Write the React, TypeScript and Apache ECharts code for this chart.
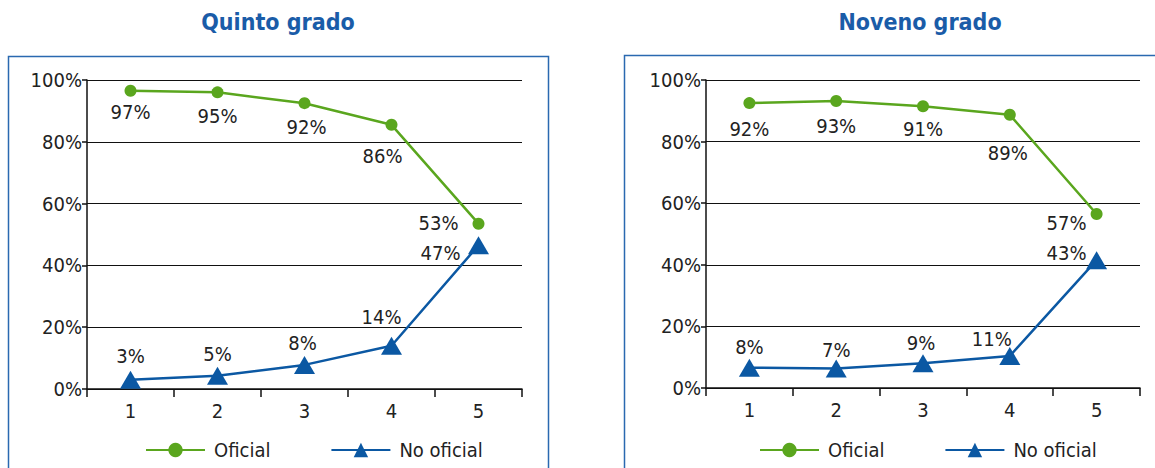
import React, { useEffect, useRef } from "react";
import * as echarts from "echarts";

const categories = ["1", "2", "3", "4", "5"];
const yTicks = [0, 20, 40, 60, 80, 100];

const quintoOficial = [96.5, 96, 92.5, 85.5, 53.5];
const quintoOficialLabels = ["97%", "95%", "92%", "86%", "53%"];
const quintoNoOficial = [3, 4.3, 7.8, 14, 46.5];
const quintoNoOficialLabels = ["3%", "5%", "8%", "14%", "47%"];

const novenoOficial = [92.5, 93.2, 91.5, 88.7, 56.5];
const novenoOficialLabels = ["92%", "93%", "91%", "89%", "57%"];
const novenoNoOficial = [6.6, 6.3, 8, 10.4, 41.5];
const novenoNoOficialLabels = ["8%", "7%", "9%", "11%", "43%"];

const titles = ["Quinto grado", "Noveno grado"];
const seriesNames = ["Oficial", "No oficial"];

const GREEN = "#5aa61e";
const BLUE = "#0b58a3";
const FRAME = "#2a69b0";
const FONT = "'Liberation Sans Narrow', 'DejaVu Sans Condensed', 'Arial Narrow', sans-serif";
const FS = 20;

// label offsets (dx, dy) from point centre
const offQO = [[0, 21], [0, 24], [2, 24], [-9, 31], [-40, -1]];
const offQN = [[0, -24], [0, -22], [-2, -22], [-10, -29], [-38, 8]];
const offNO = [[0, 26], [0, 25], [0, 23], [-2, 38], [-30, 9]];
const offNN = [[0, -21], [0, -19], [-2, -20], [-18, -17], [-30, -7]];

function makeData(values: number[], labels: string[], offs: number[][]) {
  return values.map((v, i) => ({
    value: v,
    label: { offset: offs[i], formatter: labels[i] },
  }));
}

export default function App() {
  const ref = useRef<HTMLDivElement>(null);
  useEffect(() => {
    document.body.style.margin = "0";
    const chart = echarts.init(ref.current!, null, { renderer: "svg" });
    const grids = [
      { left: 87, top: 80, width: 435, height: 309 },
      { left: 706, top: 80, width: 434, height: 308 },
    ];
    const xAxis = grids.map((_, i) => ({
      type: "category",
      gridIndex: i,
      data: categories,
      boundaryGap: true,
      axisLine: { lineStyle: { color: "#111", width: 1.5 } },
      axisTick: { show: true, length: 8, lineStyle: { color: "#111", width: 1.5 } },
      axisLabel: { fontSize: FS, fontFamily: FONT, color: "#222", margin: 12 },
      splitLine: { show: false },
    }));
    const yAxis = grids.map((_, i) => ({
      type: "value",
      gridIndex: i,
      min: yTicks[0],
      max: yTicks[yTicks.length - 1],
      interval: yTicks[1] - yTicks[0],
      axisLine: { show: true, lineStyle: { color: "#111", width: 1.5 } },
      axisTick: { show: true, length: 5, lineStyle: { color: "#111", width: 1.5 } },
      axisLabel: { fontSize: FS, fontFamily: FONT, color: "#222", margin: 5, formatter: "{value}%" },
      splitLine: { show: true, lineStyle: { color: "#111", width: 1.2 } },
    }));
    const labelBase = {
      show: true,
      position: "inside",
      fontSize: FS,
      fontFamily: FONT,
      color: "#222",
      align: "center",
      verticalAlign: "middle",
    };
    const mk = (idx: number, name: string, values: number[], labels: string[], offs: number[][], oficial: boolean) => ({
      type: "line",
      name,
      xAxisIndex: idx,
      yAxisIndex: idx,
      data: makeData(values, labels, offs),
      symbol: oficial ? "circle" : "triangle",
      symbolSize: oficial ? 12 : [21, 18],
      lineStyle: { color: oficial ? GREEN : BLUE, width: 2.5 },
      itemStyle: { color: oficial ? GREEN : BLUE },
      label: labelBase,
      z: oficial ? 3 : 2,
    });
    const legendCommon = {
      orient: "horizontal",
      top: 435,
      itemWidth: 59,
      itemHeight: 18,
      itemGap: 60,
      data: seriesNames,
      selectedMode: false,
      textStyle: { fontSize: FS, fontFamily: FONT, color: "#222", padding: [0, 0, 0, 4] },
    };
    const titleStyle = {
      fill: "#1a5ca8",
      font: `bold 23px ${FONT}`,
      textAlign: "center",
      textVerticalAlign: "middle",
    };
    chart.setOption({
      animation: false,
      grid: grids,
      xAxis,
      yAxis,
      legend: [
        { ...legendCommon, left: 140 },
        { ...legendCommon, left: 754 },
      ],
      series: [
        mk(0, seriesNames[0], quintoOficial, quintoOficialLabels, offQO, true),
        mk(0, seriesNames[1], quintoNoOficial, quintoNoOficialLabels, offQN, false),
        mk(1, seriesNames[0], novenoOficial, novenoOficialLabels, offNO, true),
        mk(1, seriesNames[1], novenoNoOficial, novenoNoOficialLabels, offNN, false),
      ],
      graphic: [
        {
          type: "rect",
          z: -10,
          shape: { x: 8.5, y: 56.5, width: 540, height: 430 },
          style: { fill: "none", stroke: FRAME, lineWidth: 1.5 },
        },
        {
          type: "rect",
          z: -10,
          shape: { x: 624.5, y: 55.5, width: 600, height: 430 },
          style: { fill: "none", stroke: FRAME, lineWidth: 1.5 },
        },
        { type: "text", x: 278, y: 22, style: { ...titleStyle, text: titles[0] } },
        { type: "text", x: 920, y: 22, style: { ...titleStyle, text: titles[1] } },
      ],
    });
    return () => chart.dispose();
  }, []);
  return <div ref={ref} style={{ width: 1155, height: 468, position: "absolute", left: 0, top: 0 }} />;
}
